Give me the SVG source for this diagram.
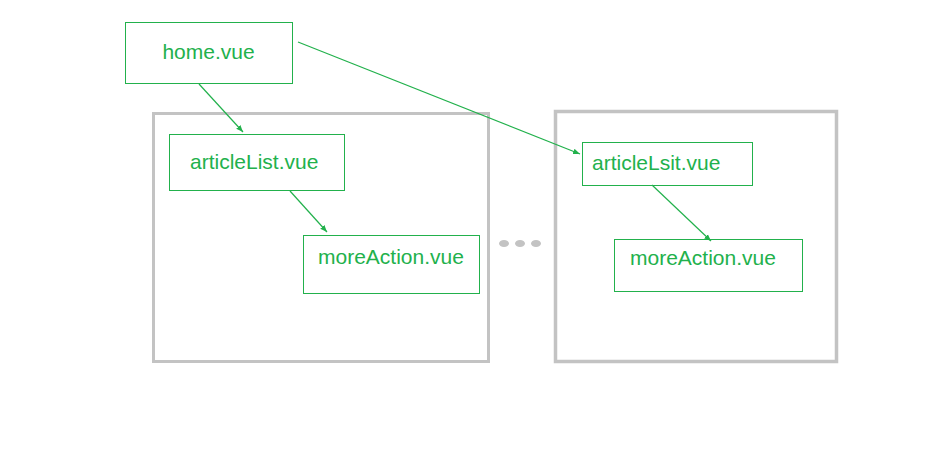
<svg xmlns="http://www.w3.org/2000/svg" width="945" height="453" viewBox="0 0 945 453">
<style>
.frame{fill:none;stroke:#c3c3c3;stroke-width:3}
.node{fill:#fff;stroke:#22b14c;stroke-width:1}
.lbl{font-family:"Liberation Sans",Arial,sans-serif;font-size:21px;fill:#22b14c}
.conn{stroke:#22b14c;stroke-width:1.2;fill:none;marker-end:url(#ah)}
.dot{fill:#c3c3c3}
</style>
<defs>
<marker id="ah" viewBox="0 0 10 10" refX="10" refY="5" markerWidth="7" markerHeight="7" orient="auto" markerUnits="userSpaceOnUse">
<path d="M0,1 L10,5 L0,9 z" fill="#22b14c"/>
</marker>
</defs>
<rect width="945" height="453" fill="#fff"/>
<g id="frame1"><rect class="frame" x="153.5" y="113.5" width="335" height="248"/></g>
<g id="frame2"><rect class="frame" x="555.5" y="111.5" width="281" height="250" style="stroke-width:3.5"/></g>
<g id="ellipsis">
<ellipse class="dot" cx="504" cy="243.5" rx="5" ry="3.5"/>
<ellipse class="dot" cx="520" cy="243.5" rx="5" ry="3.5"/>
<ellipse class="dot" cx="536" cy="243.5" rx="5" ry="3.5"/>
</g>
<g id="home"><rect class="node" x="125.5" y="22.5" width="167" height="61"/><text class="lbl" x="208.5" y="59" text-anchor="middle">home.vue</text></g>
<g id="articleList"><rect class="node" x="169.5" y="134.5" width="175" height="56"/><text class="lbl" x="190" y="169">articleList.vue</text></g>
<g id="moreAction1"><rect class="node" x="303.5" y="235.5" width="176" height="58"/><text class="lbl" x="318" y="264">moreAction.vue</text></g>
<g id="articleLsit"><rect class="node" x="582.5" y="142.5" width="170" height="43"/><text class="lbl" x="592" y="170">articleLsit.vue</text></g>
<g id="moreAction2"><rect class="node" x="614.5" y="239.5" width="188" height="52"/><text class="lbl" x="630" y="265">moreAction.vue</text></g>
<g id="connectors">
<line class="conn" x1="199" y1="84" x2="243" y2="132"/>
<line class="conn" x1="298" y1="42" x2="580" y2="154"/>
<line class="conn" x1="290" y1="191" x2="327" y2="232"/>
<line class="conn" x1="652" y1="185" x2="711" y2="241"/>
</g>
</svg>
